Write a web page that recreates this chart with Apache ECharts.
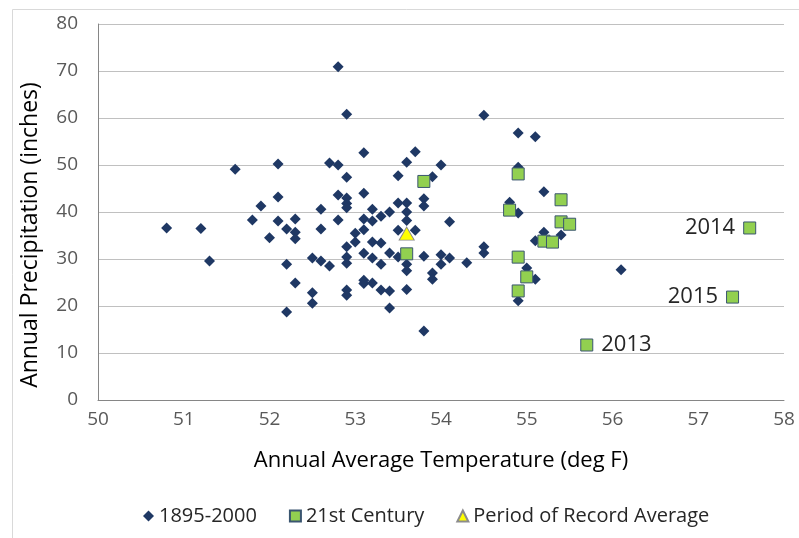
<!DOCTYPE html>
<html>
<head>
<meta charset="utf-8">
<script src="https://cdn.jsdelivr.net/npm/echarts@6/dist/echarts.min.js"></script>
<style>
  html, body { margin: 0; padding: 0; background: #fff; }
  #chart { width: 799px; height: 538px; }
</style>
</head>
<body>
<div id="chart"></div>
<script>
// 1895-2000 years: [temperature, precipitation]
var histYears = [
  [50.8,36.6],[51.2,36.5],[51.3,29.6],[51.6,49.1],[51.8,38.3],[51.9,41.3],[52.0,34.5],
  [52.1,50.2],[52.1,43.2],[52.1,38.1],[52.2,36.4],[52.2,28.9],[52.2,18.7],[52.3,38.5],
  [52.3,35.7],[52.3,34.3],[52.3,24.9],[52.5,30.2],[52.5,22.8],[52.5,20.6],[52.6,40.6],
  [52.6,36.4],[52.6,29.6],[52.7,50.4],[52.7,28.5],[52.8,70.9],[52.8,50.0],[52.8,43.6],
  [52.8,38.3],[52.9,60.8],[52.9,47.4],[52.9,43.0],[52.9,41.8],[52.9,40.9],[52.9,32.6],
  [52.9,30.4],[52.9,29.1],[52.9,23.4],[52.9,22.3],
  [53.0,35.5],[53.0,33.6],[53.1,52.6],[53.1,44.0],[53.1,38.5],[53.1,36.2],[53.1,31.2],
  [53.1,25.5],[53.1,24.8],[53.2,40.6],[53.2,38.1],[53.2,33.6],[53.2,30.2],[53.2,24.9],
  [53.3,39.1],[53.3,33.4],[53.3,28.9],[53.3,23.4],[53.4,40.0],[53.4,31.3],[53.4,23.2],
  [53.4,19.6],[53.5,47.7],[53.5,41.9],[53.5,36.1],[53.5,30.4],[53.6,50.6],[53.6,41.9],
  [53.6,40.0],[53.6,38.2],[53.6,28.9],[53.6,27.5],[53.6,23.5],[53.7,52.8],[53.7,36.1],
  [53.8,42.8],[53.8,41.3],[53.8,30.6],[53.8,14.7],[53.9,47.5],[53.9,27.0],[53.9,25.7],
  [54.0,50.0],[54.0,30.9],[54.0,28.9],[54.1,37.9],[54.1,30.2],[54.3,29.2],[54.5,60.6],
  [54.5,32.6],[54.5,31.3],
  [54.8,42.1],[54.9,56.8],[54.9,49.5],[54.9,39.8],[54.9,21.1],[55.0,28.1],[55.1,56.0],
  [55.1,33.9],[55.1,25.7],[55.2,44.3],[55.2,35.7],[55.4,35.1],[56.1,27.7]
];

// 2001-2015
var centuryYears = [
  [53.6,31.1],[53.8,46.5],[54.8,40.4],[54.9,48.1],[54.9,30.4],[54.9,23.2],[55.0,26.2],
  [55.2,33.8],[55.3,33.6],[55.4,42.6],[55.4,37.9],[55.5,37.4],[55.7,11.7],[57.6,36.6],[57.4,21.9]
];
var centuryLabels = ['', '', '', '', '', '', '', '', '', '', '', '', '2013', '2014', '2015'];
var labelSide = { '2013': 'right', '2014': 'left', '2015': 'left' };

var recordAverage = [[53.6,35.4]];

var seriesNames = ['1895-2000', '21st Century', 'Period of Record Average'];

var chart = echarts.init(document.getElementById('chart'));
var font = 'Open Sans';

var centuryData = centuryYears.map(function (p, i) {
  var item = { value: p };
  if (centuryLabels[i]) {
    item.label = {
      show: true,
      formatter: centuryLabels[i],
      position: labelSide[centuryLabels[i]],
      distance: 8,
      fontSize: 22,
      color: '#262626',
      fontFamily: font
    };
  }
  return item;
});

var option = {
  backgroundColor: '#fff',
  animation: false,
  graphic: [{
    type: 'rect',
    left: 10, top: 7,
    shape: { width: 800, height: 540 },
    style: { fill: 'none', stroke: '#d9d9d9', lineWidth: 1 },
    silent: true
  }],
  grid: { left: 98, right: 15, top: 24, bottom: 138 },
  legend: {
    bottom: 7,
    left: 138,
    itemWidth: 11,
    itemHeight: 11,
    itemGap: 32,
    textStyle: { fontSize: 20, color: '#262626', fontFamily: font },
    data: [
      { name: seriesNames[0], icon: 'diamond' },
      { name: seriesNames[1], icon: 'rect' },
      { name: seriesNames[2], icon: 'triangle' }
    ]
  },
  xAxis: {
    type: 'value',
    min: 50, max: 58, interval: 1,
    name: 'Annual Average Temperature (deg F)',
    nameLocation: 'middle',
    nameGap: 50,
    nameTextStyle: { fontSize: 22, color: '#000', fontFamily: font },
    axisLine: { lineStyle: { color: '#868686' } },
    axisTick: { show: false },
    axisLabel: { fontSize: 19, color: '#595959', margin: 10, fontFamily: font },
    splitLine: { show: false }
  },
  yAxis: {
    type: 'value',
    min: 0, max: 80, interval: 10,
    name: 'Annual Precipitation (inches)',
    nameLocation: 'middle',
    nameGap: 56,
    nameTextStyle: { fontSize: 23, color: '#000', fontFamily: font, padding: [0, 46, 0, 0] },
    axisLine: { show: true, lineStyle: { color: '#868686' } },
    axisTick: { show: false },
    axisLabel: { fontSize: 19, color: '#595959', margin: 20, fontFamily: font },
    splitLine: { lineStyle: { color: '#c0c0c0' } }
  },
  series: [
    {
      name: seriesNames[0],
      type: 'scatter',
      symbol: 'diamond',
      symbolSize: 11,
      itemStyle: { color: '#1f3864', opacity: 1 },
      data: histYears
    },
    {
      name: seriesNames[1],
      type: 'scatter',
      symbol: 'rect',
      symbolSize: 12,
      itemStyle: { color: '#92d050', borderColor: '#3a5570', borderWidth: 1, opacity: 1 },
      data: centuryData
    },
    {
      name: seriesNames[2],
      type: 'scatter',
      symbol: 'triangle',
      symbolSize: [15, 13],
      itemStyle: { color: '#ffff00', borderColor: '#8c8c8c', borderWidth: 1, opacity: 1 },
      data: recordAverage
    }
  ]
};

chart.setOption(option);
</script>
</body>
</html>
